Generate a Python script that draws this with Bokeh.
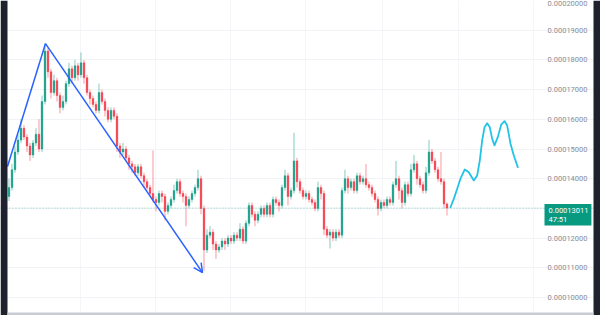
import numpy as np
from bokeh.plotting import figure
from bokeh.models import (ColumnDataSource, Range1d, FixedTicker, Span, Label, Arrow,
                          OpenHead, BoxAnnotation)
from bokeh.core.properties import value
from bokeh.embed import file_html
from bokeh.resources import INLINE

UNIT = 1e-5  # prices below are in units of 0.00001

first_open = 13.4
close = [
    13.7, 14.3, 14.9, 15.3, 15.7, 15.4, 15.1, 14.8, 15.2, 15.5,
    15.0, 16.6, 18.3, 17.6, 16.9, 17.3, 16.8, 16.4, 16.6, 17.2,
    17.7, 17.4, 17.8, 17.5, 17.9, 17.4, 16.9, 16.7, 16.5, 16.3,
    16.9, 16.6, 16.3, 16.0, 16.3, 16.1, 15.1, 14.9, 15.0, 14.7,
    14.5, 14.4, 14.2, 14.4, 14.1, 13.9, 13.7, 13.5, 13.3, 13.2,
    13.5, 13.4, 12.9, 13.1, 13.3, 13.6, 13.9, 13.5, 13.4, 13.1,
    13.3, 13.5, 13.7, 14.0, 13.0, 11.6, 12.1, 12.2, 11.8, 11.6,
    11.7, 11.9, 11.8, 12.0, 11.9, 12.1, 12.0, 12.3, 11.9, 12.5,
    13.1, 12.8, 12.6, 12.8, 13.0, 12.8, 13.1, 12.8, 13.3, 13.2,
    13.1, 13.7, 14.1, 13.4, 13.6, 14.6, 13.9, 13.6, 13.4, 13.5,
    13.3, 13.2, 13.0, 13.7, 13.5, 12.3, 12.1, 12.2, 12.0, 12.2,
    12.1, 13.6, 14.0, 13.7, 13.9, 13.6, 14.1, 13.9, 14.0, 13.8,
    13.7, 13.5, 13.3, 13.0, 13.2, 13.1, 13.3, 13.2, 13.8, 14.0,
    13.6, 13.2, 13.8, 13.5, 14.3, 14.5, 14.0, 13.8, 13.6, 14.2,
    14.9, 14.6, 14.3, 14.0, 13.9, 13.15, 13.011,
]
high = [
    14.0, 14.5, 15.1, 15.5, 16.0, 15.8, 15.5, 15.2, 15.3, 15.7,
    16.0, 16.8, 18.55, 18.4, 17.7, 17.5, 17.4, 16.9, 16.8, 17.3,
    17.9, 17.8, 18.0, 17.9, 18.25, 18.0, 17.5, 17.0, 16.8, 16.6,
    17.2, 17.0, 16.7, 16.4, 16.4, 16.4, 16.2, 15.2, 15.2, 15.1,
    14.8, 14.6, 14.5, 14.5, 14.5, 14.2, 14.0, 13.8, 14.95, 13.4,
    13.6, 13.6, 13.5, 13.2, 13.4, 13.8, 14.0, 14.0, 13.6, 13.5,
    13.4, 13.6, 13.8, 14.3, 14.1, 13.1, 12.3, 12.4, 12.3, 11.9,
    11.8, 12.0, 12.0, 12.1, 12.1, 12.2, 12.2, 12.5, 12.4, 12.6,
    13.2, 13.2, 12.9, 12.9, 13.1, 13.1, 13.2, 13.2, 13.4, 13.4,
    13.3, 13.8, 14.3, 14.2, 13.7, 15.55, 14.7, 14.0, 13.7, 13.6,
    13.6, 13.4, 13.3, 13.9, 13.8, 13.6, 12.4, 12.3, 12.3, 12.3,
    12.3, 13.7, 14.3, 14.1, 14.0, 14.0, 14.2, 14.2, 14.1, 14.5,
    13.9, 13.8, 13.6, 13.4, 13.3, 13.3, 13.4, 13.4, 13.9, 14.6,
    14.1, 13.7, 13.9, 13.9, 14.5, 14.8, 14.6, 14.1, 13.9, 14.4,
    15.3, 15.0, 14.7, 14.4, 14.9, 14.0, 13.2,
]
low = [
    13.25, 13.6, 14.2, 14.8, 15.2, 15.3, 14.9, 14.6, 14.7, 15.1,
    14.9, 14.9, 16.5, 17.4, 16.7, 16.8, 16.6, 16.2, 16.3, 16.5,
    17.1, 17.2, 17.3, 17.3, 17.4, 17.2, 16.8, 16.5, 16.4, 16.2,
    16.2, 16.5, 16.1, 15.9, 15.9, 16.0, 14.9, 14.7, 14.8, 14.6,
    14.3, 14.2, 14.1, 14.1, 14.0, 13.7, 13.6, 13.4, 13.2, 12.9,
    13.1, 13.2, 12.6, 12.8, 13.0, 13.2, 13.5, 13.4, 13.2, 12.4,
    13.0, 13.2, 13.4, 13.6, 12.8, 10.9, 11.5, 12.0, 11.6, 11.3,
    11.5, 11.6, 11.6, 11.7, 11.8, 11.8, 11.9, 11.9, 11.8, 11.8,
    12.4, 12.7, 12.4, 12.5, 12.7, 12.7, 12.7, 12.7, 12.7, 13.1,
    12.9, 13.0, 13.6, 13.1, 13.3, 13.5, 13.7, 13.5, 13.3, 13.3,
    13.2, 13.1, 12.9, 12.9, 13.3, 12.1, 12.0, 11.65, 11.9, 11.9,
    12.0, 12.0, 13.5, 13.5, 13.6, 13.5, 13.5, 13.8, 13.8, 13.7,
    13.6, 13.4, 13.2, 12.76, 12.9, 13.0, 13.0, 13.1, 13.1, 13.7,
    13.3, 13.0, 13.1, 13.4, 13.4, 14.2, 13.8, 13.7, 13.5, 13.5,
    14.1, 14.5, 14.2, 13.9, 13.8, 13.0, 12.76,
]

# hand-drawn projection path (bar index, price)
proj_x = [147.17, 148.27, 149.4, 150.5, 151.93, 153.27, 154.93, 156.07, 156.93, 157.73,
          158.5, 159.4, 160.27, 161.07, 161.83, 162.93, 164.07, 165.17, 166.07, 167.17,
          168.27, 169.6]
proj_y = [13.04, 13.32, 13.66, 14.0, 14.31, 14.22, 13.94, 14.11, 14.61, 15.29,
          15.73, 15.87, 15.73, 15.34, 15.12, 15.40, 15.82, 15.94, 15.79, 15.18,
          14.78, 14.39]

# trend drawing: start, top, end (bar index, price)
trend_x = [-0.5, 12.17, 64.5]
trend_y = [14.41, 18.55, 10.84]

last_price = 13.011
countdown = "47:51"
price_ticks = [10, 11, 12, 13, 14, 15, 16, 17, 18, 19, 20]
price_tick_labels = ["0.00010000", "0.00011000", "0.00012000", "0.00013000", "0.00014000",
                     "0.00015000", "0.00016000", "0.00017000", "0.00018000", "0.00019000",
                     "0.00020000"]

# ---------------------------------------------------------------
n = len(close)
idx = np.arange(n)
o = np.array([first_open] + close[:-1]) * UNIT
c = np.array(close) * UNIT
h = np.maximum(np.array(high) * UNIT, np.maximum(o, c))
l = np.minimum(np.array(low) * UNIT, np.minimum(o, c))
up = c >= o
GREEN = "#089981"
RED = "#f23645"
colors = np.where(up, GREEN, RED)

src = ColumnDataSource(dict(x=idx, top=np.maximum(o, c), bottom=np.minimum(o, c),
                            high=h, low=l, color=colors))

# whole canvas is the frame: 3 px per bar, 29.7 px per 0.00001
X0, X1 = -2.833, 197.17             # page x 0 .. 600
Y0, Y1 = 9.394 * UNIT, 20.0 * UNIT  # page y 315 .. 0
AXIS_X = 192.83                     # right edge of the price-scale texts
SCALE_LEFT = 178.5                  # left edge of the price scale

p = figure(width=600, height=315, output_backend="svg", toolbar_location=None,
           x_range=Range1d(X0, X1), y_range=Range1d(Y0, Y1),
           x_axis_location=None, y_axis_location=None,
           min_border_left=0, min_border_right=0, min_border_top=0, min_border_bottom=0,
           background_fill_color="white", border_fill_color="white")
p.outline_line_color = None

p.ygrid.ticker = FixedTicker(ticks=[t * UNIT for t in price_ticks])
p.ygrid.grid_line_color = "#f2f3f6"
p.xgrid.ticker = FixedTicker(ticks=[23.8, 49, 74, 99, 124.5, 150, 175])
p.xgrid.grid_line_color = "#f4f5f8"

p.segment(x0="x", y0="low", x1="x", y1="high", source=src, line_color="color",
          line_alpha=0.5, line_width=1)
p.vbar(x="x", width=0.55, top="top", bottom="bottom", source=src,
       fill_color="color", line_color="color", line_width=0.4, fill_alpha=0.95)

# price line
p.add_layout(Span(location=last_price * UNIT, dimension="width", line_color="#26a69a",
                  line_alpha=0.6, line_dash="1 2", line_width=1))

# trend drawing
ty = [v * UNIT for v in trend_y]
p.line(trend_x[:2], ty[:2], line_color="#2962ff", line_width=1.5)
p.add_layout(Arrow(x_start=trend_x[1], y_start=ty[1], x_end=trend_x[2], y_end=ty[2],
                   line_color="#2962ff", line_width=1.5,
                   end=OpenHead(size=9, line_color="#2962ff", line_width=1.5)))

# projection path
p.line(proj_x, [v * UNIT for v in proj_y], line_color="#22c3e6", line_width=1.8,
       line_join="round", line_cap="round")

# price scale texts (topmost one kept just inside the top edge)
p.text(x=[AXIS_X] * (len(price_ticks) - 1), y=[t * UNIT for t in price_ticks[:-1]],
       text=price_tick_labels[:-1],
       text_align="right", text_baseline="middle", text_font=value("Roboto"),
       text_font_size=value("7.5px"), text_color="#8a8d96")
p.text(x=[AXIS_X], y=[price_ticks[-1] * UNIT], text=price_tick_labels[-1:],
       text_align="right", text_baseline="top", text_font=value("Roboto"),
       text_font_size=value("7.5px"), text_color="#8a8d96")

# last price tag
p.add_layout(Label(x=SCALE_LEFT, y=last_price * UNIT, text=f"{last_price * UNIT:.8f}\n{countdown}",
                   text_align="left", text_baseline="top", y_offset=4, x_offset=0,
                   text_font="Roboto", text_font_size="7.5px", text_color="white",
                   text_line_height=0.95,
                   background_fill_color=GREEN,
                   padding=dict(left=4, right=3, top=2, bottom=2)))

# terminal chrome: dark side strips and bottom border
p.add_layout(BoxAnnotation(left=0, right=7, left_units="screen", right_units="screen",
                           fill_color="#1e222d", fill_alpha=1, line_color=None))
p.add_layout(BoxAnnotation(left=593, right=600, left_units="screen", right_units="screen",
                           fill_color="#1e222d", fill_alpha=1, line_color=None))
p.add_layout(BoxAnnotation(left=7, right=593, left_units="screen", right_units="screen",
                           top=9.495 * UNIT, fill_color="#c9ccd3", fill_alpha=1, line_color=None))

open("out.html", "w").write(file_html(p, INLINE))
